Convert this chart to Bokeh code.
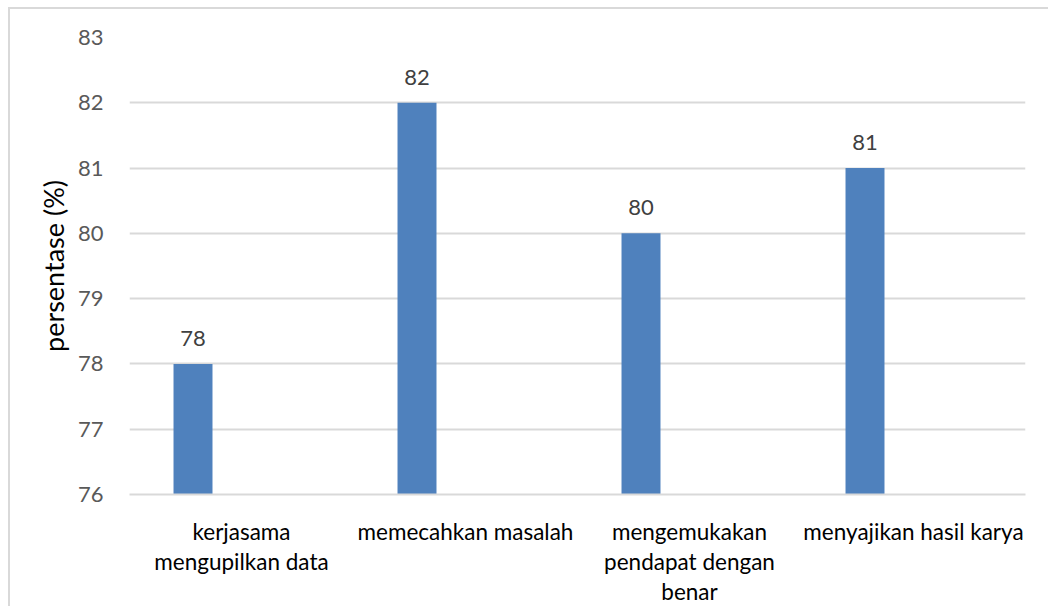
from bokeh.plotting import figure
from bokeh.models import Range1d, FixedTicker, ColumnDataSource, LabelSet
from bokeh.core.properties import value
from bokeh.transform import dodge
from bokeh.embed import file_html
from bokeh.resources import INLINE

# Chart data
categories = [
    "kerjasama\nmengupilkan data",
    "memecahkan masalah",
    "mengemukakan\npendapat dengan\nbenar",
    "menyajikan hasil karya",
]
values = [78, 82, 80, 81]
y_ticks = [76, 77, 78, 79, 80, 81, 82, 83]
y_title = "persentase (%)"

FONT = "Lato"
BAR_COLOR = "#4f81bd"
GRID_COLOR = "#d9d9d9"

idx = list(range(len(categories)))
source = ColumnDataSource(dict(idx=idx, value=values, label=[str(v) for v in values]))

p = figure(
    width=1040, height=599,
    x_range=Range1d(-0.5, len(categories) - 0.5),
    y_range=Range1d(y_ticks[0], y_ticks[-1]),
    output_backend="svg", toolbar_location=None,
    min_border_left=119, min_border_right=25,
    min_border_top=28, min_border_bottom=114,
)
p.margin = (7, 0, 0, 8)
p.styles = {"border-top": "2px solid #d9d9d9", "border-left": "2px solid #d9d9d9"}
p.outline_line_color = None
p.background_fill_color = "white"
p.border_fill_color = "white"

# bars sit in the left part of each category slot
bar_x = dodge("idx", -0.2165, range=p.x_range)
p.vbar(x=bar_x, top="value", bottom=y_ticks[0], width=0.174,
       source=source, fill_color=BAR_COLOR, line_color=None)

labels = LabelSet(x=bar_x, y="value", text="label", source=source,
                  y_offset=18, text_align="center", text_baseline="alphabetic",
                  text_font=value(FONT), text_font_size="22px", text_color="#404040")
p.add_layout(labels)

# y axis
p.yaxis.ticker = FixedTicker(ticks=y_ticks)
p.yaxis.axis_line_color = None
p.yaxis.major_tick_line_color = None
p.yaxis.minor_tick_line_color = None
p.yaxis.major_label_standoff = 20
p.yaxis.major_label_text_font = FONT
p.yaxis.major_label_text_font_size = "22px"
p.yaxis.major_label_text_color = "#595959"
p.yaxis.axis_label = y_title
p.yaxis.axis_label_text_font = FONT
p.yaxis.axis_label_text_font_size = "27px"
p.yaxis.axis_label_text_font_style = "normal"
p.yaxis.axis_label_text_color = "#000000"
p.yaxis.axis_label_standoff = 5

# x axis
p.xaxis.ticker = FixedTicker(ticks=idx)
p.xaxis.major_label_overrides = {i: c for i, c in zip(idx, categories)}
p.xaxis.axis_line_color = GRID_COLOR
p.xaxis.axis_line_width = 2
p.xaxis.major_tick_line_color = None
p.xaxis.minor_tick_line_color = None
p.xaxis.major_label_standoff = 17
p.xaxis.major_label_text_font = FONT
p.xaxis.major_label_text_font_size = "22.5px"
p.xaxis.major_label_text_color = "#000000"
p.xaxis.major_label_text_line_height = 1.12

p.xgrid.grid_line_color = None
p.ygrid.grid_line_color = GRID_COLOR
p.ygrid.grid_line_width = 2

html = file_html(p, INLINE)
# keep the page from scrolling
html = html.replace("<head>", "<head>\n<style>html, body { margin: 0; overflow: hidden; }</style>", 1)
open("out.html", "w").write(html)
